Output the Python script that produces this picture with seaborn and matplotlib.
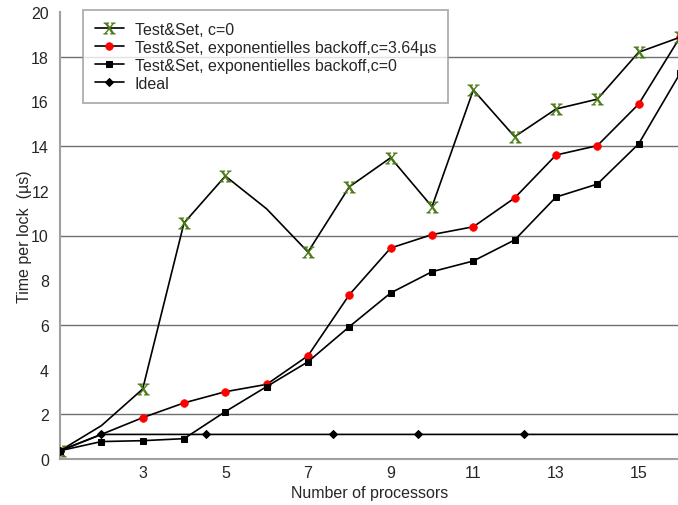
import matplotlib
matplotlib.use("Agg")
import matplotlib.pyplot as plt
import seaborn as sns
import pandas as pd

# ---- data ----
processors = [1, 2, 3, 4, 5, 6, 7, 8, 9, 10, 11, 12, 13, 14, 15, 16]
ts_c0 = [0.37, 1.49, 3.13, 10.56, 12.66, 11.19, 9.26, 12.18, 13.48, 11.29,
         16.51, 14.42, 15.66, 16.10, 18.20, 18.87]
ts_exp_c364 = [0.37, 1.10, 1.85, 2.51, 3.01, 3.34, 4.62, 7.35, 9.44, 10.04,
               10.39, 11.68, 13.60, 14.02, 15.88, 18.87]
ts_exp_c0 = [0.37, 0.78, 0.82, 0.91, 2.12, 3.24, 4.35, 5.92, 7.43, 8.38,
             8.86, 9.80, 11.72, 12.30, 14.10, 17.25]
ideal_x = [1, 2, 4.53, 7.61, 9.66, 12.23, 16]
ideal_y = [0.37, 1.10, 1.10, 1.10, 1.10, 1.10, 1.10]

labels = ["Test&Set, c=0",
          "Test&Set, exponentielles backoff,c=3.64\u00b5s",
          "Test&Set, exponentielles backoff,c=0",
          "Ideal"]
ytick_vals = [0, 2, 4, 6, 8, 10, 12, 14, 16, 18, 20]
grid_vals = [2, 6, 10, 14, 18]
xtick_vals = [2, 3, 4, 5, 6, 7, 8, 9, 10, 11, 12, 13, 14, 15, 16]
xtick_labels = [str(v) if v % 2 == 1 else "" for v in xtick_vals]

sns.set_style("white")
plt.rcParams["font.family"] = ["Liberation Sans", "DejaVu Sans"]
plt.rcParams["mathtext.fontset"] = "stix"

fig = plt.figure(figsize=(6.78, 5.06), dpi=100)
W, H = 678, 506
x0, x1, y0, y1 = 60, 680, 460, 13
ax = fig.add_axes([x0 / W, (H - y0) / H, (x1 - x0) / W, (y0 - y1) / H])

df = pd.DataFrame({"p": processors, "c0": ts_c0, "c364": ts_exp_c364, "e0": ts_exp_c0})
dfi = pd.DataFrame({"p": ideal_x, "v": ideal_y})

gray = "#8c8c8c"
for g in grid_vals:
    ax.axhline(g, color="#707070", lw=1.0, zorder=1)

green = "#4a7a14"
sns.lineplot(data=df, x="p", y="c364", ax=ax, color="black", lw=1.2,
             marker="o", markersize=5.5, markerfacecolor="#ff0000",
             markeredgecolor="#ff0000", markeredgewidth=0.5, zorder=3,
             markevery=[0] + list(range(2, 16)))
sns.lineplot(data=df, x="p", y="c0", ax=ax, color="black", lw=1.2,
             marker=r"$\mathrm{X}$", markersize=8.5, markerfacecolor=green,
             markeredgecolor=green, markeredgewidth=0.4, zorder=3,
             markevery=[0, 2, 3, 4, 6, 7, 8, 9, 10, 11, 12, 13, 14, 15])
sns.lineplot(data=df, x="p", y="e0", ax=ax, color="black", lw=1.2,
             marker="s", markersize=5, markerfacecolor="black",
             markeredgecolor="black", zorder=4)
sns.lineplot(data=dfi, x="p", y="v", ax=ax, color="black", lw=1.2,
             marker="D", markersize=4.5, markerfacecolor="black",
             markeredgecolor="black", zorder=5, markevery=[0, 1, 2, 3, 4, 5])

ax.set_xlim(1, 16)
ax.set_ylim(0, 20)
ax.set_xticks(xtick_vals)
ax.set_xticklabels(xtick_labels)
ax.set_yticks(ytick_vals)
ax.set_yticks(ytick_vals, minor=True)
ax.yaxis.remove_overlapping_locs = False
ax.tick_params(axis="x", direction="in", length=8, width=1, color=gray,
               labelsize=11.5, pad=4)
ax.tick_params(axis="y", which="major", direction="in", length=10, width=1,
               color=gray, labelsize=11.5, pad=8)
ax.tick_params(axis="y", which="minor", direction="out", length=4, width=1,
               color=gray)
for s in ["top", "right"]:
    ax.spines[s].set_visible(False)
for s in ["left", "bottom"]:
    ax.spines[s].set_color("#a0a0a0")
    ax.spines[s].set_linewidth(1.5)

ax.set_xlabel("Number of processors", fontsize=11.5, labelpad=4)
ax.set_ylabel("Time per lock  (\u00b5s)", fontsize=11.5, labelpad=-1)

lines = ax.get_lines()
data_lines = [l for l in lines if len(l.get_xdata()) > 2]
# order: c0, c364, e0, ideal
handles = [data_lines[1], data_lines[0], data_lines[2], data_lines[3]]
leg = ax.legend(handles, labels, loc="upper left",
                bbox_to_anchor=(83 / W, 1 - 11 / H), bbox_transform=fig.transFigure,
                borderaxespad=0, fontsize=11.5, frameon=True, fancybox=False,
                edgecolor="#999999", handlelength=1.8, handletextpad=0.7,
                labelspacing=0.18, borderpad=0.75)
leg.get_frame().set_linewidth(1.3)
leg.set_zorder(10)

fig.savefig("out.png", dpi=100)
